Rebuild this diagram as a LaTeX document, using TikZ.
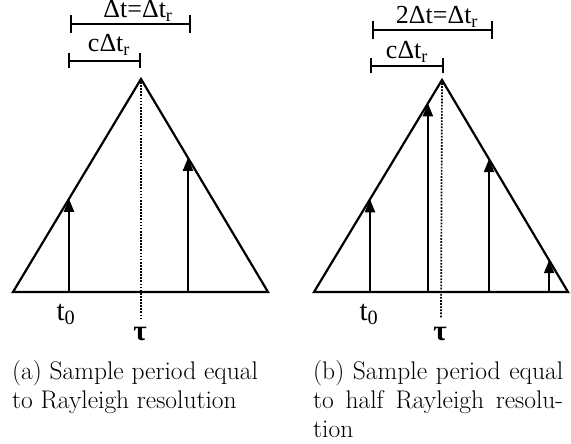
\documentclass[tikz,border=0pt]{standalone}
\usepackage{fontspec}
\newfontfamily\lblfont{Liberation Serif}
\usetikzlibrary{arrows.meta,calc}
\tikzset{
  tri/.style={line width=2.2pt, line join=miter},
  samp/.style={line width=2pt, -{Triangle[length=13pt,width=10pt]}},
  span/.style={line width=#1, {Bar[width=18pt]}-{Bar[width=18pt]}},
  subspan/.style={line width=1.7pt, {Bar[width=15pt]}-{Bar[width=15pt]}},
  centre/.style={line width=1.7pt, dash pattern=on 1.7pt off 1.4pt},
  lbl/.style={inner sep=0pt, anchor=base},
  capt/.style={font=\fontsize{25.5}{28.5}\selectfont, inner sep=0pt, anchor=base west, align=left}
}
\newcommand\lblsize{\lblfont\fontsize{26}{26}\selectfont}
\newcommand\axsize{\lblfont\fontsize{29}{29}\selectfont}
\begin{document}
\begin{tikzpicture}[x=1pt, y=-1pt]
  \useasboundingbox (0,0) rectangle (571,444);

  % (a) sample period = Rayleigh resolution
  \coordinate (aL) at (13,292);
  \coordinate (aR) at (268,292);
  \coordinate (aT) at (141,79);
  \coordinate (aD) at (141,318);
  \draw[tri] (aL) -- (aT) -- (aR) -- cycle;
  \draw[centre] (aT) -- (aD);
  \coordinate (a1) at ($(aL)!0.4375!(aT)$);
  \coordinate (a2) at ($(aT)!0.37!(aR)$);
  \draw[samp] (a1 |- aL) -- (a1);
  \draw[samp] (a2 |- aL) -- (a2);
  \coordinate (aS1) at (70,24);
  \coordinate (aS2) at (191,24);
  \coordinate (aC1) at (68,61);
  \coordinate (aC2) at (aT |- aC1);
  \draw[span=2.3pt] (aS1) -- (aS2);
  \draw[subspan] (aC1) -- (aC2);
  \node[lbl] (aspan) at (138,18) {\lblsize Δt=Δt\textsubscript{r}};
  \node[lbl] (acdt) at (109,52) {\lblsize cΔt\textsubscript{r}};
  \node[lbl] (at0) at (66,320) {\axsize t\textsubscript{0}};
  \node[lbl] (atau) at (140,340) {\axsize\bfseries τ};
  \node[capt] (acap1) at (12,379) {(a) Sample period equal};
  \node[capt] (acap2) at (12,408) {to Rayleigh resolution};

  % (b) sample period = half Rayleigh resolution
  \coordinate (bL) at (314,292);
  \coordinate (bR) at (568,292);
  \coordinate (bT) at (442,80);
  \coordinate (bD) at (441,318);
  \draw[tri] (bL) -- (bT) -- (bR) -- cycle;
  \draw[centre] (bT) -- (bD);
  \coordinate (b1) at ($(bL)!0.4375!(bT)$);
  \coordinate (b2) at ($(bL)!0.89!(bT)$);
  \coordinate (b3) at ($(bT)!0.373!(bR)$);
  \coordinate (b4) at ($(bT)!0.85!(bR)$);
  \foreach \s in {b1,b2,b3,b4}
    \draw[samp] (\s |- bL) -- (\s);
  \coordinate (bS1) at (372,30);
  \coordinate (bS2) at (493,30);
  \coordinate (bC1) at (370,66);
  \coordinate (bC2) at (444,66);
  \draw[span=2pt] (bS1) -- (bS2);
  \draw[subspan] (bC1) -- (bC2);
  \node[lbl] (bspan) at (437,24) {\lblsize 2Δt=Δt\textsubscript{r}};
  \node[lbl] (bcdt) at (407,59) {\lblsize cΔt\textsubscript{r}};
  \node[lbl] (bt0) at (369,320) {\axsize t\textsubscript{0}};
  \node[lbl] (btau) at (440,340) {\axsize\bfseries τ};
  \node[capt] (bcap1) at (313,379) {\makebox[250pt][s]{(b) Sample period equal}};
  \node[capt] (bcap2) at (313,408) {\makebox[250pt][s]{to half Rayleigh resolu-}};
  \node[capt] (bcap3) at (313,437) {tion};
\end{tikzpicture}
\end{document}
